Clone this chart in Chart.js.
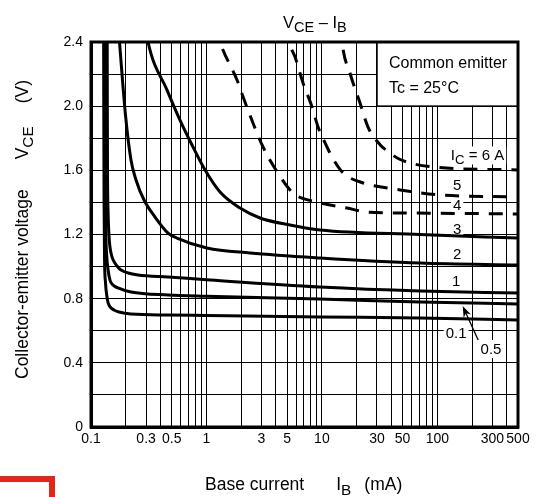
<!DOCTYPE html>
<html><head><meta charset="utf-8">
<script src="https://cdn.jsdelivr.net/npm/chart.js@4/dist/chart.umd.min.js"></script>
<style>html,body{margin:0;padding:0;background:#fff;}#wrap{width:542px;height:497px;position:relative;}</style>
</head><body><div id="wrap"><canvas id="c"></canvas></div>
<script>
const FONT = '"Liberation Sans", Arial, Helvetica, sans-serif';

// Axis grid / tick values
const xGridValues = [0.1,0.2,0.3,0.4,0.5,0.6,0.7,0.8,0.9,1,2,3,4,5,6,7,8,9,10,20,30,40,50,60,70,80,90,100,200,300,400,500];
const xTickLabels = ['0.1','0.3','0.5','1','3','5','10','30','50','100','300','500'];
const yGridValues = [0,0.2,0.4,0.6,0.8,1.0,1.2,1.4,1.6,1.8,2.0,2.2,2.4];
const yTickLabels = ['0','0.4','0.8','1.2','1.6','2.0','2.4'];

// Series: base current IB (mA) and VCE (V) for each IC
const ib_01 = [0.1285,0.129,0.1298,0.131,0.1335,0.137,0.1405,0.148,0.16,0.175,0.222,0.465,1,9.6,71,500];
const vce_01 = [2.6,2.0,1.4,1.05,0.9,0.82,0.775,0.745,0.728,0.717,0.704,0.698,0.695,0.686,0.680,0.667];
const ib_05 = [0.1315,0.132,0.133,0.1345,0.137,0.1405,0.146,0.155,0.171,0.222,0.465,1,9.6,71,500];
const vce_05 = [2.6,2.0,1.5,1.2,1.06,0.98,0.916,0.885,0.867,0.842,0.823,0.815,0.798,0.779,0.767];
const ib_1 = [0.138,0.1385,0.139,0.1405,0.143,0.146,0.152,0.161,0.172,0.182,0.21,0.255,0.465,1,9.6,71,500];
const vce_1 = [2.6,2.0,1.6,1.35,1.2,1.122,1.06,1.022,0.995,0.979,0.96,0.948,0.935,0.918,0.873,0.848,0.835];
const ib_2 = [0.172,0.1765,0.1989,0.222,0.2455,0.288,0.3586,0.465,0.556,1.01,2.39,9.64,71,500];
const vce_2 = [2.5,2.4,1.945,1.665,1.54,1.415,1.309,1.209,1.178,1.116,1.085,1.054,1.022,1.010];
const ib_3 = [0.29,0.312,0.456,0.59,0.75,0.973,1.312,1.955,2.914,5.30,9.64,71,500];
const vce_3 = [2.55,2.4,2.10,1.913,1.758,1.602,1.465,1.365,1.303,1.259,1.228,1.20,1.178];
const ib_4 = [1.2,1.31,1.84,2.08,2.53,3.09,4.1,5.63,9.3,16.5,24.6,58.1,500];
const vce_4 = [2.5,2.4,2.163,2.057,1.895,1.746,1.59,1.459,1.40,1.365,1.340,1.334,1.328];
const ib_5 = [5.1,5.3,5.86,6.87,8.22,9.27,10.66,12.25,15.27,22.8,36.7,47.6,106,500];
const vce_5 = [2.5,2.394,2.307,2.145,1.995,1.870,1.771,1.683,1.584,1.521,1.490,1.478,1.446,1.434];
const ib_6 = [14.6,15.0,17.5,21.4,25.1,31.9,39.0,44.9,58.1,92,500];
const vce_6 = [2.5,2.394,2.207,2.02,1.870,1.76,1.708,1.677,1.646,1.621,1.602];

// Curve labels (text, IB position mA, VCE position V)
const labelText = ['IC = 6 A','5','4','3','2','1','0.1','0.5'];
const labelIB = [223,148.6,148.6,148.6,148.6,145.5,145.5,292];
const labelVCE = [1.696,1.509,1.384,1.234,1.079,0.910,0.589,0.489];
const arrowIB = [226,166];
const arrowVCE = [0.542,0.754];
// Condition box corners (IB mA, VCE V)
const boxIB = [30,500];
const boxVCE = [2.0,2.4];
const boxText = ['Common emitter','Tc = 25°C'];

const pts = (xs, ys) => xs.map((x,i)=>({x:x, y:ys[i]}));
const mk = (xs, ys, dashed) => ({
  data: pts(xs, ys), borderColor:'#000', borderWidth:3, pointRadius:0,
  fill:false, cubicInterpolationMode:'monotone', borderDash: dashed ? [14,10] : [],
  borderCapStyle:'butt', borderJoinStyle:'round'
});

function segsFor(t){
  if (t.startsWith('IC')) return [{t:'I'},{t:'C',sub:true},{t:t.slice(2)}];
  return [{t:t}];
}
function measureRich(ctx, segs, base){
  let w=0;
  for (const s of segs){
    if (s.gap){ w+=s.gap; continue; }
    ctx.font = (s.sub?base*0.88:base)+'px '+FONT;
    w += ctx.measureText(s.t).width;
  }
  return w;
}
function drawRich(ctx, segs, x, y, base, align){
  const w = measureRich(ctx, segs, base);
  let cx = align==='center' ? x-w/2 : x;
  ctx.textAlign='left'; ctx.textBaseline='alphabetic'; ctx.fillStyle='#000';
  for (const s of segs){
    if (s.gap){ cx+=s.gap; continue; }
    const size = s.sub?base*0.88:base;
    ctx.font = size+'px '+FONT;
    ctx.fillText(s.t, cx, y + (s.sub? base*0.26 : 0));
    cx += ctx.measureText(s.t).width;
  }
  return w;
}

const LABEL_SIZE = 15;
const decor = {
  id:'decor',
  beforeDatasetsDraw(chart){
    const ctx = chart.ctx, xs = chart.scales.x, ys = chart.scales.y;
    ctx.save();
    ctx.fillStyle='#fff';
    labelText.forEach((t,i)=>{
      const px = xs.getPixelForValue(labelIB[i]), py = ys.getPixelForValue(labelVCE[i]);
      const w = measureRich(ctx, segsFor(t), LABEL_SIZE);
      ctx.fillRect(px-w/2-2, py-LABEL_SIZE/2-1, w+4, LABEL_SIZE+3);
    });
    const bx0 = xs.getPixelForValue(boxIB[0]), bx1 = xs.getPixelForValue(boxIB[1]);
    const by0 = ys.getPixelForValue(boxVCE[1]), by1 = ys.getPixelForValue(boxVCE[0]);
    ctx.fillRect(bx0, by0, bx1-bx0, by1-by0);
    ctx.strokeStyle='#000'; ctx.lineWidth=1.6;
    ctx.strokeRect(bx0, by0, bx1-bx0, by1-by0);
    ctx.font = '16px '+FONT; ctx.fillStyle='#000'; ctx.textAlign='left'; ctx.textBaseline='alphabetic';
    ctx.fillText(boxText[0], bx0+12, by0+26);
    ctx.fillText(boxText[1], bx0+12, by0+51);
    ctx.restore();
  },
  afterDatasetsDraw(chart){
    const ctx = chart.ctx, xs = chart.scales.x, ys = chart.scales.y, a = chart.chartArea;
    ctx.save();
    ctx.strokeStyle='#000'; ctx.lineWidth=3;
    ctx.strokeRect(a.left, a.top, a.right-a.left, a.bottom-a.top);
    labelText.forEach((t,i)=>{
      const px = xs.getPixelForValue(labelIB[i]), py = ys.getPixelForValue(labelVCE[i]);
      drawRich(ctx, segsFor(t), px, py+LABEL_SIZE*0.36, LABEL_SIZE, 'center');
    });
    const x0 = xs.getPixelForValue(arrowIB[0]), y0 = ys.getPixelForValue(arrowVCE[0]);
    const x1 = xs.getPixelForValue(arrowIB[1]), y1 = ys.getPixelForValue(arrowVCE[1]);
    const ang = Math.atan2(y1-y0, x1-x0);
    ctx.lineWidth=1.3;
    ctx.beginPath(); ctx.moveTo(x0,y0); ctx.lineTo(x1-7*Math.cos(ang), y1-7*Math.sin(ang)); ctx.stroke();
    ctx.beginPath();
    ctx.moveTo(x1,y1);
    ctx.lineTo(x1-11*Math.cos(ang)+4*Math.sin(ang), y1-11*Math.sin(ang)-4*Math.cos(ang));
    ctx.lineTo(x1-8*Math.cos(ang), y1-8*Math.sin(ang));
    ctx.lineTo(x1-11*Math.cos(ang)-4*Math.sin(ang), y1-11*Math.sin(ang)+4*Math.cos(ang));
    ctx.closePath(); ctx.fillStyle='#000'; ctx.fill();
    ctx.restore();
  },
  afterDraw(chart){
    const ctx = chart.ctx;
    ctx.save();
    drawRich(ctx, [{t:'V'},{t:'CE',sub:true},{t:' – I'},{t:'B',sub:true}], 283, 28, 16.5, 'left');
    drawRich(ctx, [{t:'Base current'},{gap:32},{t:'I'},{t:'B',sub:true},{gap:13},{t:'(mA)'}], 205, 490, 17.5, 'left');
    ctx.translate(28, 379); ctx.rotate(-Math.PI/2);
    drawRich(ctx, [{t:'Collector-emitter voltage'},{gap:30},{t:'V'},{t:'CE',sub:true},{gap:23},{t:'(V)'}], 0, 0, 17.5, 'left');
    ctx.restore();
    ctx.save();
    ctx.strokeStyle='#e3261c'; ctx.lineWidth=6;
    ctx.strokeRect(-10, 479, 62, 40);
    ctx.restore();
  }
};

const findLabel = (arr, v) => { const l = arr.find(s => Math.abs(Number(s)-v) < 1e-9); return l===undefined ? '' : l; };

new Chart(document.getElementById('c'), {
  type:'line',
  data:{ datasets:[
    mk(ib_01, vce_01, false), mk(ib_05, vce_05, false), mk(ib_1, vce_1, false),
    mk(ib_2, vce_2, false), mk(ib_3, vce_3, false),
    mk(ib_4, vce_4, true), mk(ib_5, vce_5, true), mk(ib_6, vce_6, true)
  ]},
  options:{
    responsive:true, maintainAspectRatio:false, animation:false, events:[],
    layout:{ padding:{ left:0, top:42, right:24, bottom:0 } },
    plugins:{ legend:{display:false}, tooltip:{enabled:false}, title:{display:false} },
    scales:{
      x:{ type:'logarithmic', min:0.1, max:500,
        afterBuildTicks(s){ s.ticks = xGridValues.map(v=>({value:v})); },
        afterFit(s){ s.height = 70; },
        grid:{ color:'#000', lineWidth:1, drawTicks:false },
        border:{ display:true, color:'#000', width:3 },
        ticks:{ autoSkip:false, maxRotation:0, minRotation:0, padding:4, color:'#000',
          font:{ family:FONT, size:14 }, callback:(v)=>findLabel(xTickLabels, v) }
      },
      y:{ type:'linear', min:0, max:2.4,
        afterBuildTicks(s){ s.ticks = yGridValues.map(v=>({value:v})); },
        afterFit(s){ s.width = 91; },
        grid:{ color:'#000', lineWidth:1, drawTicks:false },
        border:{ display:true, color:'#000', width:3 },
        ticks:{ autoSkip:false, padding:8, color:'#000',
          font:{ family:FONT, size:14 }, callback:(v)=>findLabel(yTickLabels, v) }
      }
    }
  },
  plugins:[decor]
});
</script>
</body></html>
